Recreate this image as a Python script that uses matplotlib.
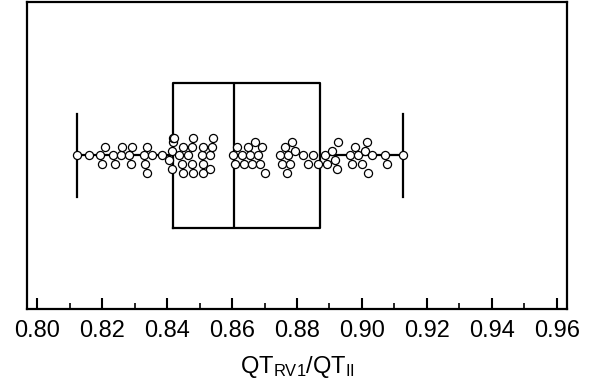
import numpy as np
import matplotlib.pyplot as plt
from matplotlib.ticker import MultipleLocator, FormatStrFormatter

plt.rcParams['font.family'] = ['Liberation Sans', 'DejaVu Sans']
plt.rcParams['mathtext.fontset'] = 'custom'
plt.rcParams['mathtext.rm'] = 'Liberation Sans'
plt.rcParams['mathtext.default'] = 'regular'

# --- data (QT_RV1 / QT_II ratios) ---
ratios = [
    0.8123, 0.8159, 0.8194, 0.8200, 0.8209, 0.8234, 0.8240, 0.8258, 0.8262,
    0.8283, 0.8289, 0.8293, 0.8329, 0.8332, 0.8338, 0.8338, 0.8353,
    0.8385, 0.8406, 0.8415, 0.8415, 0.8418, 0.8418, 0.8422,
    0.8437, 0.8446, 0.8449, 0.8449, 0.8464, 0.8477, 0.8477, 0.8480, 0.8480,
    0.8508, 0.8511, 0.8511, 0.8511, 0.8532, 0.8532, 0.8538, 0.8541,
    0.8603, 0.8609, 0.8616, 0.8631, 0.8637, 0.8649, 0.8655, 0.8661, 0.8670,
    0.8680, 0.8686, 0.8692, 0.8701,
    0.8748, 0.8754, 0.8763, 0.8769, 0.8772, 0.8778, 0.8784, 0.8793,
    0.8818, 0.8833, 0.8849, 0.8864, 0.8886, 0.8892, 0.8907, 0.8916, 0.8922,
    0.8925, 0.8962, 0.8969, 0.8978, 0.8987, 0.9000, 0.9009, 0.9015, 0.9018,
    0.9030, 0.9070, 0.9077, 0.9126,
]
box_q1 = 0.8418
box_median = 0.8606
box_q3 = 0.8871
whisker_lo = 0.8123
whisker_hi = 0.9126

fig = plt.figure(figsize=(5.94, 3.88), dpi=100)
ax = fig.add_axes([0.0455, 0.204, 0.909, 0.791])
ax.set_xlim(0.7969, 0.9631)
ax.set_ylim(0, 1)

stats = [dict(med=box_median, q1=box_q1, q3=box_q3,
              whislo=whisker_lo, whishi=whisker_hi, fliers=[])]
lp = dict(color='black', linewidth=1.6)
ax.bxp(stats, positions=[0.5], widths=0.47, vert=False, capwidths=0.27,
       boxprops=lp, whiskerprops=lp, capprops=lp, medianprops=lp,
       showfliers=False, manage_ticks=False)

# simple beeswarm: stack overlapping points above / below the centre line
ax_w = fig.get_size_inches()[0] * fig.dpi * 0.909
ax_h = fig.get_size_inches()[1] * fig.dpi * 0.791
px_per_x = ax_w / (0.9631 - 0.7969)
diam = 7.5
step = 4.4
xs = np.array(ratios) * px_per_x
placed = []
offsets = []
for x in xs:
    for k in [0, -1, 1, -2, 2, -3, 3, -4, 4]:
        y = k * step
        if all((x - px) ** 2 + (y - py) ** 2 >= diam ** 2 for px, py in placed):
            break
    placed.append((x, y))
    offsets.append(y)
ys = 0.5 + np.array(offsets) / ax_h

ax.scatter(ratios, ys, s=34, facecolor='white', edgecolor='black',
           linewidth=0.9, zorder=5)

ax.xaxis.set_major_locator(MultipleLocator(0.02))
ax.xaxis.set_minor_locator(MultipleLocator(0.01))
ax.xaxis.set_major_formatter(FormatStrFormatter('%.2f'))
ax.tick_params(axis='x', which='major', direction='in', length=8, width=1.5,
               labelsize=17, pad=8)
ax.tick_params(axis='x', which='minor', direction='in', length=4, width=1.2)
ax.set_yticks([])
for sp in ax.spines.values():
    sp.set_linewidth(1.6)

ax.set_xlabel(r'QT$_{RV1}$/QT$_{II}$', fontsize=17, labelpad=9)

fig.savefig('out.png', dpi=100)
